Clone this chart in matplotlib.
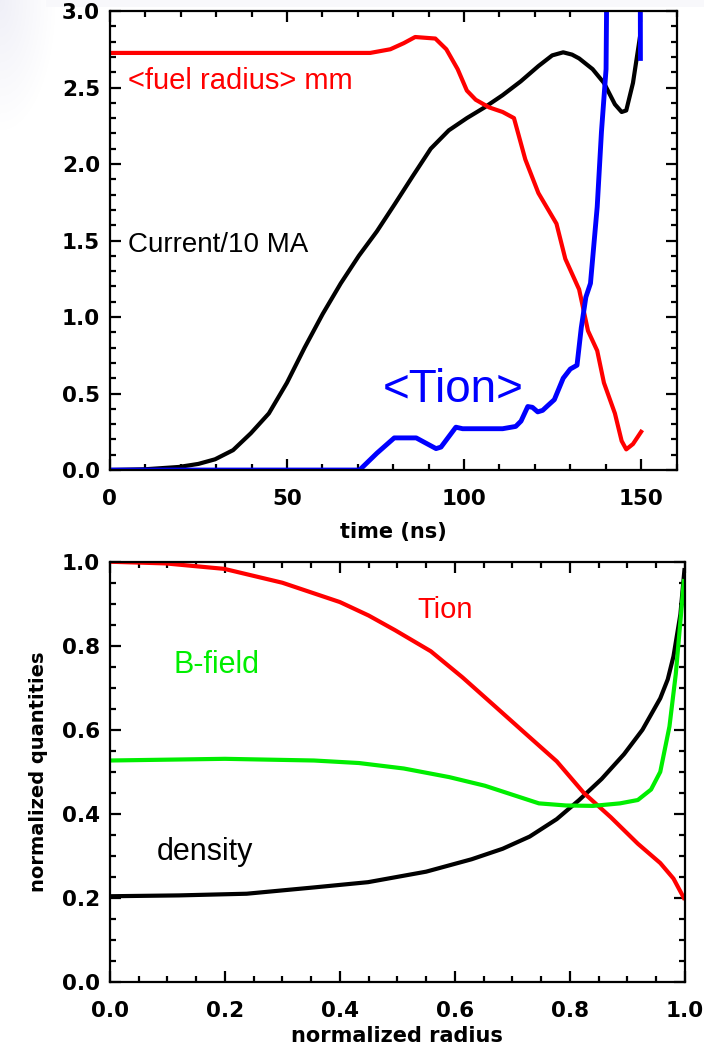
import numpy as np
import matplotlib
matplotlib.use("Agg")
import matplotlib.pyplot as plt
from matplotlib.ticker import MultipleLocator

# ---- top panel: time history ----
t_current = [0, 10, 19.5, 25, 29.7, 34.8, 39.8, 44.9, 50, 55, 60.1, 65.2, 70.3, 75.4, 80.5,
             85.5, 90.6, 95.7, 100.8, 105.8, 110.9, 116, 121, 124.9, 128, 130.5, 132.5, 136.3,
             139.5, 142.6, 144.5, 145.8, 147.7, 149.6]
current = [0.0, 0.005, 0.02, 0.04, 0.07, 0.13, 0.24, 0.37, 0.57, 0.80, 1.02, 1.22, 1.40, 1.56,
           1.74, 1.92, 2.10, 2.22, 2.30, 2.37, 2.45, 2.54, 2.64, 2.71, 2.73, 2.715, 2.69, 2.62,
           2.53, 2.39, 2.34, 2.35, 2.53, 2.82]

t_radius = [0, 73.5, 79.2, 83, 86.2, 91.9, 95, 98.2, 100.8, 103.3, 107.1, 110.9, 114.1,
            117.3, 121, 126.1, 128.6, 132.5, 135, 137.6, 139.5, 142.6, 144.5, 145.8, 147.7, 150]
fuel_radius = [2.726, 2.726, 2.75, 2.79, 2.83, 2.82, 2.75, 2.62, 2.48, 2.42, 2.37, 2.34, 2.30,
               2.03, 1.81, 1.61, 1.38, 1.18, 0.91, 0.78, 0.57, 0.37, 0.19, 0.135, 0.17, 0.25]

t_tion = [0, 70.5, 75.4, 80.3, 86.5, 92.1, 93.5, 97.7, 99.6, 110.9, 114.6, 116.1, 118,
          119.3, 120.8, 122.2, 123.6, 125.5, 128, 130, 131.9, 133.1, 134.4, 135.7, 137.6,
          138.8, 140.1, 140.6, 149.7, 149.8]
tion_avg = [0.0, 0.0, 0.11, 0.21, 0.21, 0.14, 0.15, 0.28, 0.27, 0.27, 0.285, 0.32, 0.415,
            0.41, 0.38, 0.39, 0.42, 0.46, 0.60, 0.66, 0.685, 0.93, 1.13, 1.22, 1.72,
            2.21, 2.62, 4.0, 4.0, 2.69]

# ---- bottom panel: radial profiles ----
r_tion = [0, 0.097, 0.199, 0.30, 0.40, 0.45, 0.496, 0.558, 0.613, 0.668, 0.722, 0.777, 0.824,
          0.871, 0.918, 0.957, 0.98, 0.998]
tion_prof = [1.0, 0.996, 0.983, 0.95, 0.904, 0.872, 0.837, 0.787, 0.725, 0.658, 0.592, 0.525,
             0.45, 0.392, 0.329, 0.283, 0.246, 0.20]

r_dens = [0, 0.12, 0.238, 0.355, 0.449, 0.55, 0.629, 0.683, 0.73, 0.777, 0.816, 0.855,
          0.894, 0.926, 0.957, 0.97, 0.98, 0.992, 0.999]
density = [0.204, 0.206, 0.21, 0.225, 0.2375, 0.2625, 0.292, 0.317, 0.346, 0.3875, 0.433,
           0.483, 0.542, 0.60, 0.675, 0.72, 0.775, 0.875, 0.98]

r_bfield = [0, 0.2, 0.355, 0.433, 0.511, 0.59, 0.652, 0.699, 0.746, 0.793, 0.84, 0.887,
            0.918, 0.941, 0.957, 0.973, 0.984, 0.992, 0.998]
bfield = [0.527, 0.531, 0.527, 0.521, 0.508, 0.4875, 0.467, 0.446, 0.425, 0.42, 0.419,
          0.425, 0.433, 0.458, 0.50, 0.608, 0.733, 0.858, 0.954]

plt.rcParams['font.family'] = 'DejaVu Sans'
LBL = {'family': 'Liberation Sans'}

fig = plt.figure(figsize=(7.04, 10.48), dpi=100)

# faint backdrop tint in the top-left corner
bg = fig.add_axes([0, 0, 1, 1], zorder=-10)
yy, xx = np.mgrid[0:1048, 0:704]
tint = np.clip(1 - np.hypot(xx / 55.0, yy / 130.0), 0, 1) * 0.06
strip = ((yy < 7) & (xx > 45)) * 0.025
amt = np.maximum(tint, strip)
img = np.ones((1048, 704, 3))
img[..., 0] -= amt * 1.0
img[..., 1] -= amt * 1.0
img[..., 2] -= amt * 0.5
bg.imshow(img, aspect='auto', extent=[0, 1, 0, 1])
bg.axis('off')


def style_axes(ax):
    for sp in ax.spines.values():
        sp.set_linewidth(1.6)
    ax.tick_params(which='both', direction='in', top=True, right=True, width=1.6)
    ax.tick_params(which='major', length=8)
    ax.tick_params(which='minor', length=4)
    ax.tick_params(axis='x', which='major', pad=14, labelsize=15.5)
    ax.tick_params(axis='y', which='major', pad=7, labelsize=15.5)
    for lab in ax.get_xticklabels() + ax.get_yticklabels():
        lab.set_fontweight('bold')


# top panel
ax1 = fig.add_axes([0.156, 0.5515, 0.805, 0.438])
ax1.plot(t_current, current, color='black', lw=3)
ax1.plot(t_radius, fuel_radius, color='#ff0000', lw=3)
ax1.plot(t_tion, tion_avg, color='#0000ff', lw=3.5)
ax1.set_xlim(0, 160)
ax1.set_ylim(0, 3.0)
ax1.xaxis.set_major_locator(MultipleLocator(50))
ax1.xaxis.set_minor_locator(MultipleLocator(10))
ax1.yaxis.set_major_locator(MultipleLocator(0.5))
ax1.yaxis.set_minor_locator(MultipleLocator(0.1))
ax1.yaxis.set_major_formatter(plt.FormatStrFormatter('%.1f'))
style_axes(ax1)
ax1.set_xlabel('time (ns)', fontsize=15, fontweight='bold', labelpad=9)
ax1.text(5.1, 2.54, '<fuel radius> mm', color='#ff0000', fontsize=21, va='center', **LBL)
ax1.text(5.1, 1.47, 'Current/10 MA', color='black', fontsize=20, va='center', **LBL)
ax1.text(77, 0.52, '<Tion>', color='#0000ff', fontsize=33, va='center', **LBL)

# bottom panel
ax2 = fig.add_axes([0.156, 0.063, 0.817, 0.401])
ax2.plot(r_dens, density, color='black', lw=3)
ax2.plot(r_tion, tion_prof, color='#ff0000', lw=3)
ax2.plot(r_bfield, bfield, color='#00ee00', lw=3)
ax2.set_xlim(0, 1.0)
ax2.set_ylim(0, 1.0)
ax2.xaxis.set_major_locator(MultipleLocator(0.2))
ax2.xaxis.set_minor_locator(MultipleLocator(0.05))
ax2.yaxis.set_major_locator(MultipleLocator(0.2))
ax2.yaxis.set_minor_locator(MultipleLocator(0.05))
ax2.xaxis.set_major_formatter(plt.FormatStrFormatter('%.1f'))
ax2.yaxis.set_major_formatter(plt.FormatStrFormatter('%.1f'))
style_axes(ax2)
ax2.set_xlabel('normalized radius', fontsize=15, fontweight='bold', labelpad=3)
ax2.set_ylabel('normalized quantities', fontsize=14, fontweight='bold', labelpad=10)
ax2.text(0.534, 0.886, 'Tion', color='#ff0000', fontsize=21, va='center', **LBL)
ax2.text(0.111, 0.755, 'B-field', color='#00ee00', fontsize=22, va='center', **LBL)
ax2.text(0.082, 0.31, 'density', color='black', fontsize=22, va='center', **LBL)

fig.savefig('out.png', dpi=100)
